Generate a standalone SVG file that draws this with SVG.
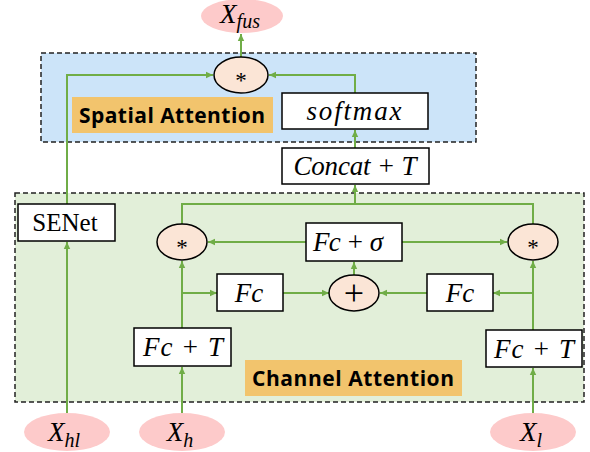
<svg xmlns="http://www.w3.org/2000/svg" width="590" height="452" viewBox="0 0 590 452">
<style>
.region{stroke:#222;stroke-width:1.5;stroke-dasharray:5,3}
.box{fill:#fff;stroke:#000;stroke-width:1.5}
.op{fill:#fbe5d6;stroke:#000;stroke-width:1.5}
.inp{fill:#fdcaca;stroke:none}
.lbl{fill:#f2c46d}
.ln{fill:none;stroke:#70ad47;stroke-width:2}
.m{font-family:"Liberation Serif",serif;font-style:italic;font-size:27px;fill:#000;text-anchor:middle}
.up{font-family:"Liberation Serif",serif;font-size:25px;fill:#000;text-anchor:middle}
.star{font-family:"Liberation Serif",serif;font-size:23px;fill:#000;text-anchor:middle}
.plus{font-family:"Liberation Serif",serif;font-size:36px;fill:#000;text-anchor:middle}
.sub{font-size:20px}
.t{font-family:"Open Sans","DejaVu Sans",sans-serif;font-weight:700;font-size:21px;fill:#000;text-anchor:middle}
</style>
<defs>
<marker id="ah" markerUnits="userSpaceOnUse" markerWidth="8" markerHeight="8" refX="7" refY="4" orient="auto">
<path d="M0,0.8 L7,4 L0,7.2 Z" fill="#70ad47"/>
</marker>
</defs>
<g id="regions">
<rect id="spatial-region" class="region" x="41" y="53" width="435" height="89" fill="#cce4f9"/>
<rect id="channel-region" class="region" x="15" y="193" width="569" height="209" fill="#e2efd9"/>
<rect class="lbl" x="72" y="97" width="201" height="36"/>
<text class="t" x="172" y="123" textLength="186" lengthAdjust="spacing">Spatial Attention</text>
<rect class="lbl" x="245" y="360" width="217" height="36"/>
<text class="t" x="353" y="386" textLength="202" lengthAdjust="spacing">Channel Attention</text>
</g>
<g id="connectors">
<path class="ln" d="M241,57 V34" marker-end="url(#ah)"/>
<path class="ln" d="M67,204 V75 H213" marker-end="url(#ah)"/>
<path class="ln" d="M355,93 V75 H269" marker-end="url(#ah)"/>
<path class="ln" d="M355,148 V130" marker-end="url(#ah)"/>
<path class="ln" d="M182,224 V204 H533 V224"/>
<path class="ln" d="M355,204 V185" marker-end="url(#ah)"/>
<path class="ln" d="M67,413 V242" marker-end="url(#ah)"/>
<path class="ln" d="M182,413 V367" marker-end="url(#ah)"/>
<path class="ln" d="M182,328 V261" marker-end="url(#ah)"/>
<path class="ln" d="M182,293 H217" marker-end="url(#ah)"/>
<path class="ln" d="M283,293 H329" marker-end="url(#ah)"/>
<path class="ln" d="M427,293 H380" marker-end="url(#ah)"/>
<path class="ln" d="M533,293 H493" marker-end="url(#ah)"/>
<path class="ln" d="M533,330 V261" marker-end="url(#ah)"/>
<path class="ln" d="M533,413 V368" marker-end="url(#ah)"/>
<path class="ln" d="M354,275 V262" marker-end="url(#ah)"/>
<path class="ln" d="M306,242 H208" marker-end="url(#ah)"/>
<path class="ln" d="M402,242 H507" marker-end="url(#ah)"/>
</g>
<g id="x-fus">
<ellipse class="inp" cx="242" cy="16" rx="41" ry="17"/>
<text class="m" x="240" y="23">X<tspan class="sub" dy="5">fus</tspan></text>
</g>
<g id="mul-spatial">
<ellipse class="op" cx="241" cy="75" rx="27" ry="18"/>
<text class="star" x="241" y="88">*</text>
</g>
<g id="softmax">
<rect class="box" x="282" y="93" width="146" height="36"/>
<text class="m" x="354" y="120" textLength="95" lengthAdjust="spacing">softmax</text>
</g>
<g id="concat">
<rect class="box" x="282" y="148" width="147" height="36"/>
<text class="m" x="355" y="175" textLength="123" lengthAdjust="spacing">Concat + T</text>
</g>
<g id="senet">
<rect class="box" x="18" y="204" width="97" height="37"/>
<text class="up" x="65" y="231">SENet</text>
</g>
<g id="mul-left">
<ellipse class="op" cx="182" cy="242" rx="25" ry="18"/>
<text class="star" x="182" y="255">*</text>
</g>
<g id="fc-sigma">
<rect class="box" x="306" y="223" width="96" height="38"/>
<text class="m" x="348" y="251" textLength="70" lengthAdjust="spacing">Fc + σ</text>
</g>
<g id="mul-right">
<ellipse class="op" cx="533" cy="242" rx="25" ry="18"/>
<text class="star" x="533" y="255">*</text>
</g>
<g id="fc-left">
<rect class="box" x="217" y="274" width="66" height="37"/>
<text class="m" x="249" y="302">Fc</text>
</g>
<g id="plus">
<ellipse class="op" cx="354" cy="293" rx="25" ry="18"/>
<text class="plus" x="354" y="305">+</text>
</g>
<g id="fc-right">
<rect class="box" x="427" y="274" width="66" height="37"/>
<text class="m" x="460" y="302">Fc</text>
</g>
<g id="fc-t-left">
<rect class="box" x="134" y="328" width="97" height="38"/>
<text class="m" x="183" y="356" textLength="80" lengthAdjust="spacing">Fc + T</text>
</g>
<g id="fc-t-right">
<rect class="box" x="486" y="330" width="96" height="37"/>
<text class="m" x="534" y="358" textLength="80" lengthAdjust="spacing">Fc + T</text>
</g>
<g id="x-hl">
<ellipse class="inp" cx="67" cy="432" rx="43" ry="19"/>
<text class="m" x="64" y="441">X<tspan class="sub" dy="6">hl</tspan></text>
</g>
<g id="x-h">
<ellipse class="inp" cx="182" cy="432" rx="43" ry="19"/>
<text class="m" x="180" y="441">X<tspan class="sub" dy="6">h</tspan></text>
</g>
<g id="x-l">
<ellipse class="inp" cx="533" cy="432" rx="43" ry="19"/>
<text class="m" x="531" y="441">X<tspan class="sub" dy="6">l</tspan></text>
</g>
</svg>
